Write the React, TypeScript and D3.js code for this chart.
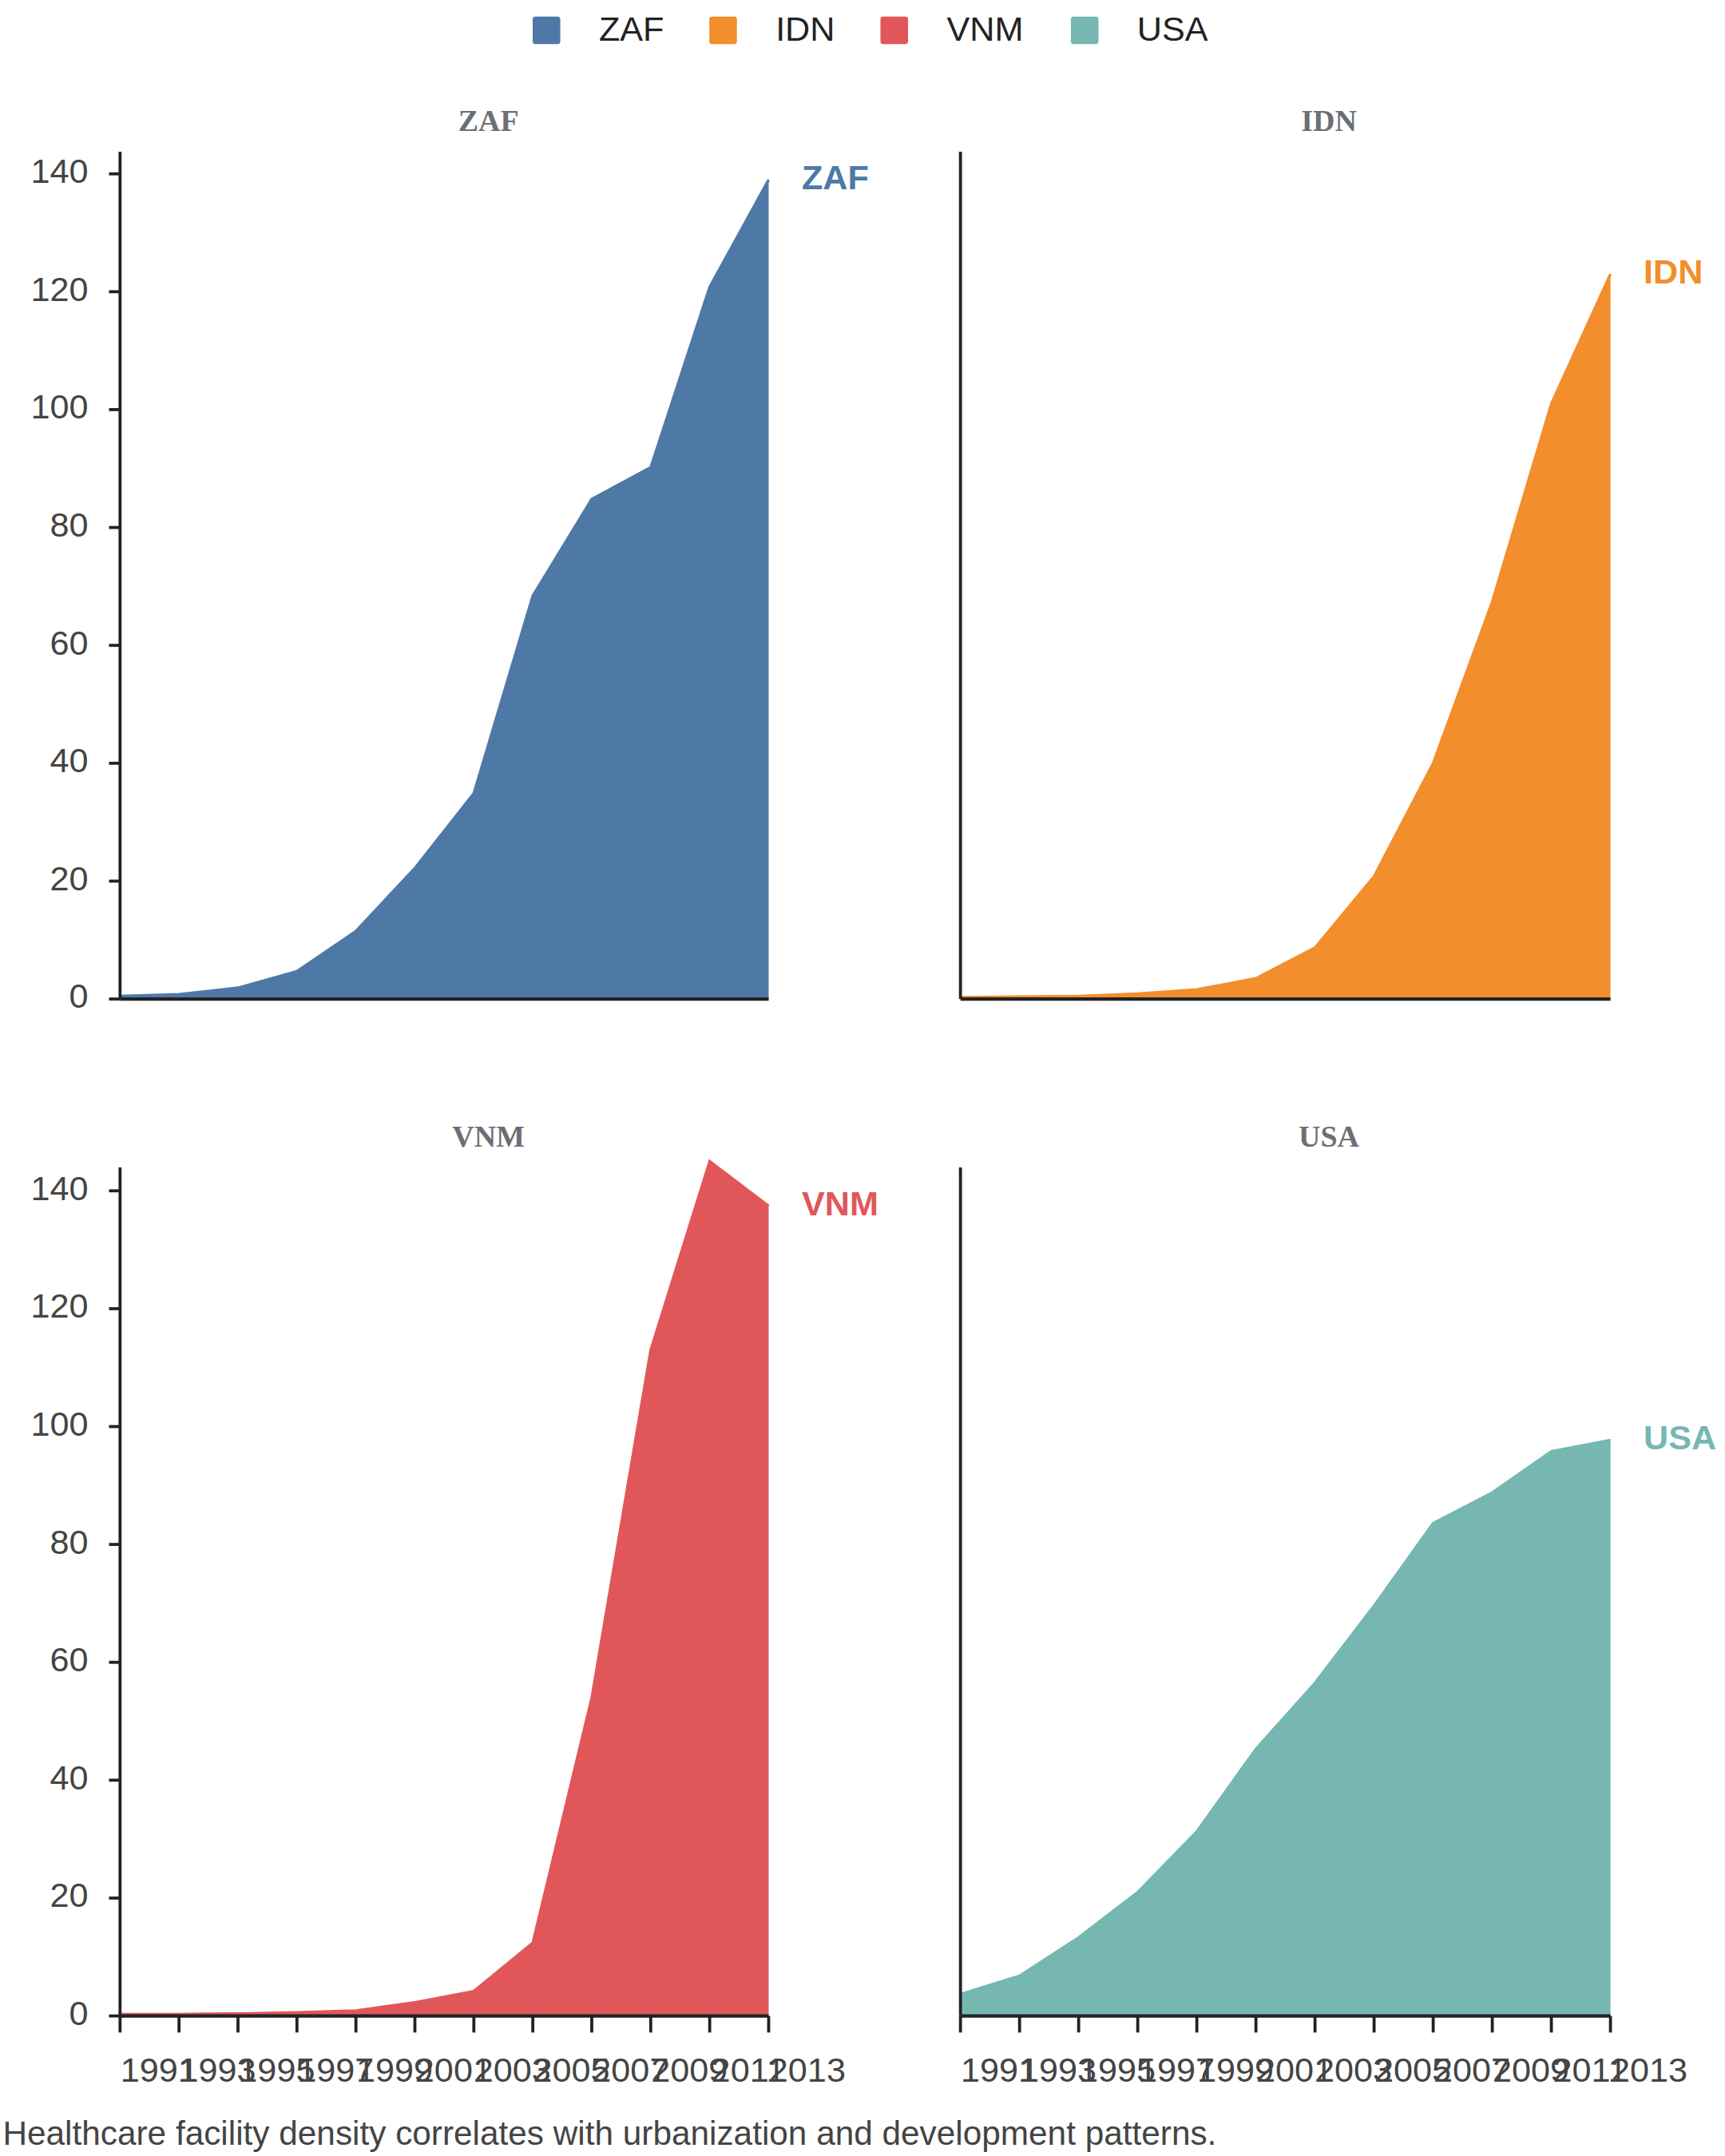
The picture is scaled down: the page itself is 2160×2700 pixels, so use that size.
import React from "react";
import * as d3 from "d3";

const years = [1991, 1993, 1995, 1997, 1999, 2001, 2003, 2005, 2007, 2009, 2011, 2013];
const countries = ["ZAF", "IDN", "VNM", "USA"];
const colors = ["#4e79a7", "#f28e2b", "#e15759", "#76b7b2"];
const zafValues = [0.5, 0.8, 1.9, 4.7, 11.5, 22.2, 34.9, 68.4, 84.8, 90.2, 120.8, 139];
const idnValues = [0.3, 0.4, 0.5, 0.9, 1.6, 3.5, 8.7, 20.8, 40, 67.4, 101, 123];
const vnmValues = [0.3, 0.3, 0.4, 0.6, 0.9, 2.3, 4.2, 12.4, 54, 113, 145, 137.4];
const usaValues = [3.7, 6.8, 13.3, 21, 31.3, 45.3, 56.5, 69.6, 83.6, 88.8, 95.8, 97.7];
const seriesValues = [zafValues, idnValues, vnmValues, usaValues];
const yTicks = [0, 20, 40, 60, 80, 100, 120, 140];
const caption = "Healthcare facility density correlates with urbanization and development patterns.";

const panels = [
  { x0: 87, x1: 557, yTop: 110, yBot: 724, title: 354, titleY: 90, left: true, bottom: false },
  { x0: 696, x1: 1167, yTop: 110, yBot: 724, title: 963, titleY: 90, left: false, bottom: false },
  { x0: 87, x1: 557, yTop: 846, yBot: 1461, title: 354, titleY: 826, left: true, bottom: true },
  { x0: 696, x1: 1167, yTop: 846, yBot: 1461, title: 963, titleY: 826, left: false, bottom: true },
];
const legendX = [396, 524, 648, 786];
const font = "Liberation Sans, Arial, sans-serif";

export default function App() {
  return (
    <svg width={2160} height={2700} viewBox="0 0 1250 1562.5"
      style={{ position: "absolute", left: 0, top: 0, background: "#fff" }}>
      {countries.map((c, i) => (
        <g key={c}>
          <rect x={legendX[i] - 10} y={12} width={20} height={20} rx={2} fill={colors[i]} />
          <text x={legendX[i] + 38} y={23} dominantBaseline="middle" fontFamily={font} fontSize={25} fill="#222">{c}</text>
        </g>
      ))}
      {panels.map((p, i) => {
        const x = d3.scalePoint<number>().domain(years).range([p.x0, p.x1]);
        const y = d3.scaleLinear().domain([0, 140]).range([p.yBot, p.yBot - 598]);
        const data = seriesValues[i].map((v, k) => ({ yr: years[k], v }));
        const area = d3.area<{ yr: number; v: number }>().x(d => x(d.yr)!).y0(y(0)).y1(d => y(d.v))(data)!;
        const line = d3.line<{ yr: number; v: number }>().x(d => x(d.yr)!).y(d => y(d.v))(data)!;
        const last = data[data.length - 1];
        return (
          <g key={i}>
            <text x={p.title} y={p.titleY} textAnchor="middle" dominantBaseline="middle" fontFamily="Liberation Serif, serif" fontWeight="bold" fontSize={22} fill="#6b6f75">{countries[i]}</text>
            <path d={area} fill={colors[i]} />
            <path d={line} fill="none" stroke={colors[i]} strokeWidth={2} />
            <text x={p.x1 + 24} y={y(last.v)} dominantBaseline="middle" fontFamily={font} fontWeight="bold" fontSize={25} fill={colors[i]}>{countries[i]}</text>
            <line x1={p.x0} x2={p.x0} y1={p.yTop} y2={p.yBot} stroke="#222" strokeWidth={2.2} />
            <line x1={p.x0} x2={p.x1} y1={p.yBot} y2={p.yBot} stroke="#222" strokeWidth={2.5} />
            {p.left && yTicks.map(t => (
              <g key={t}>
                <line x1={p.x0 - 8} x2={p.x0} y1={y(t)} y2={y(t)} stroke="#222" strokeWidth={2.2} />
                <text x={p.x0 - 23} y={y(t)} textAnchor="end" dominantBaseline="middle" fontFamily={font} fontSize={25} fill="#444">{t}</text>
              </g>
            ))}
            {p.bottom && years.map(yr => (
              <g key={yr}>
                <line x1={x(yr)} x2={x(yr)} y1={p.yBot} y2={p.yBot + 12} stroke="#222" strokeWidth={2.2} />
                <text x={x(yr)! + 28} y={p.yBot + 41} textAnchor="middle" dominantBaseline="middle" fontFamily={font} fontSize={25} fill="#444">{yr}</text>
              </g>
            ))}
          </g>
        );
      })}
      <text x={2} y={1548} dominantBaseline="middle" fontFamily={font} fontSize={24.5} fill="#444">{caption}</text>
    </svg>
  );
}
